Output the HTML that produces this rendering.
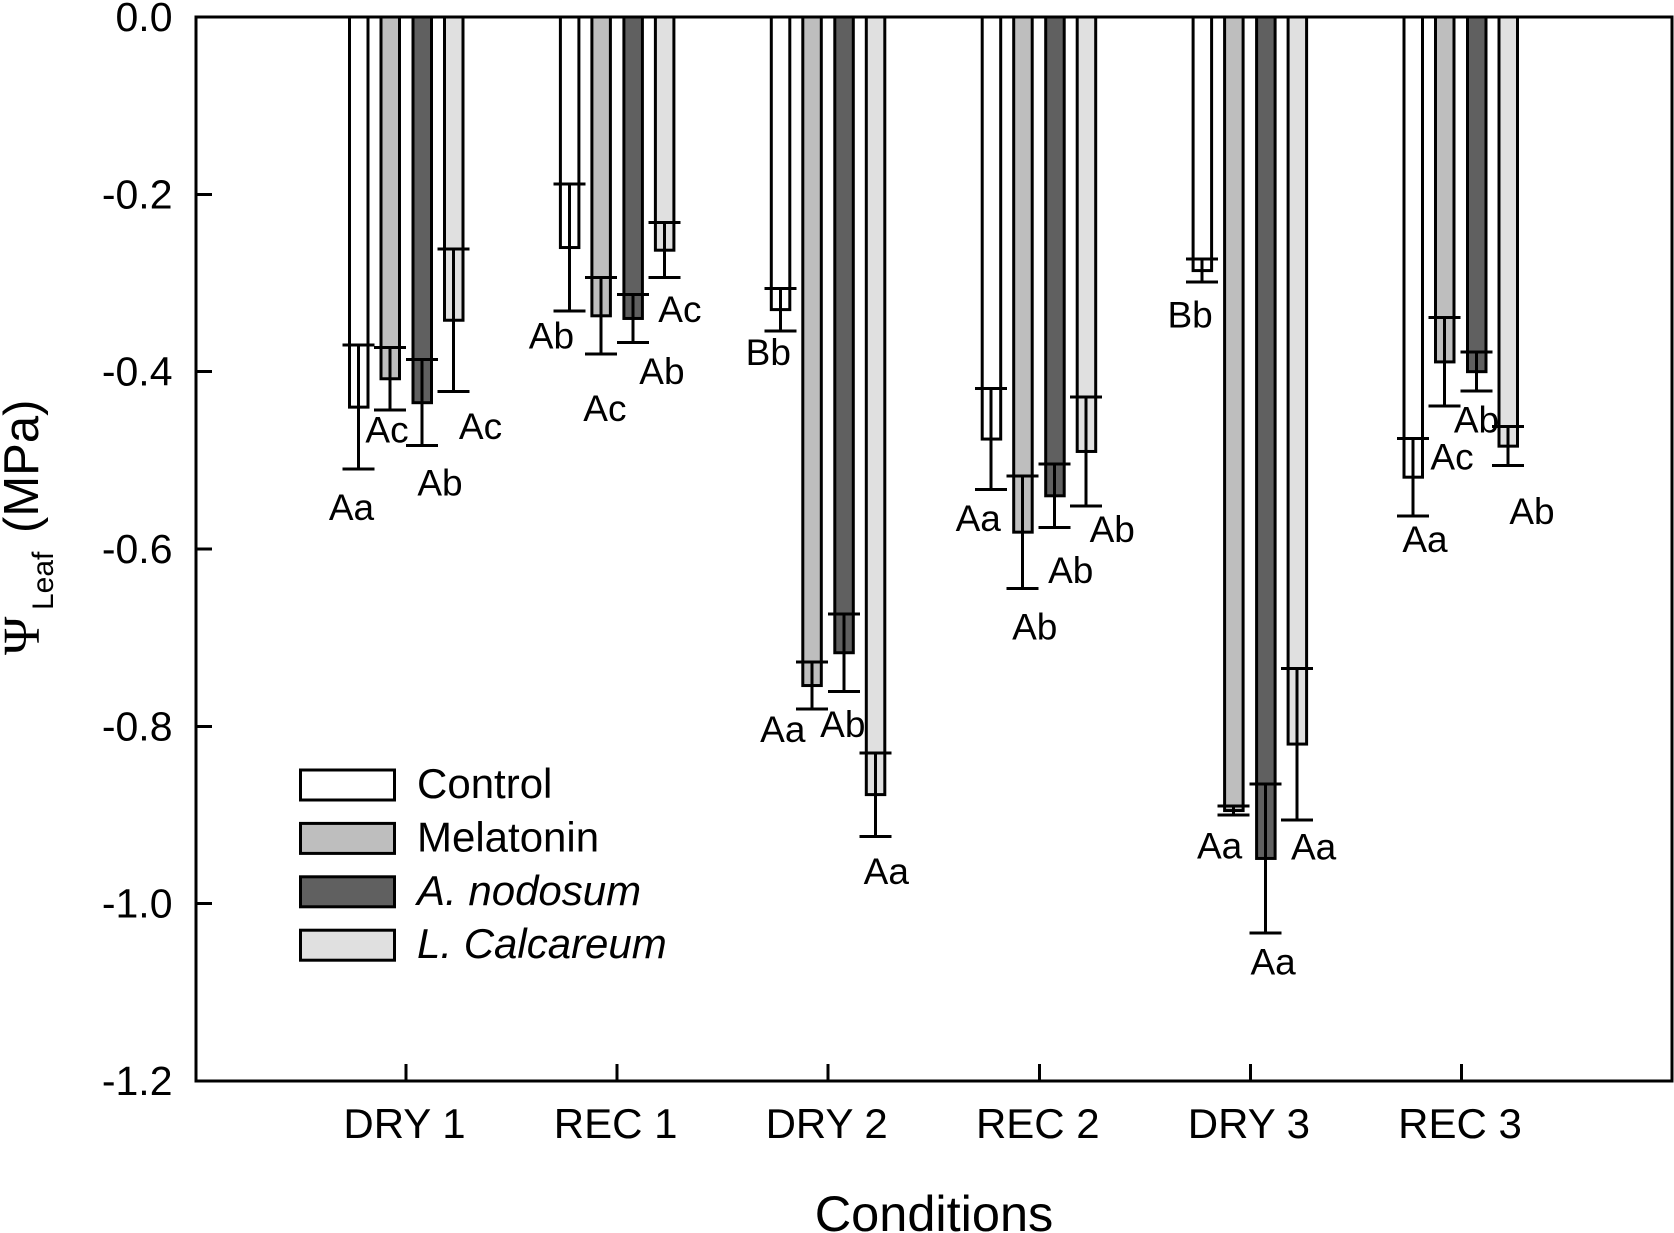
<!DOCTYPE html>
<html lang="en">
<head>
<meta charset="utf-8">
<title>Leaf water potential by condition</title>
<style>
  html, body { margin: 0; padding: 0; background: #fff; }
  svg { display: block; font-family: "Liberation Sans", Arial, sans-serif; fill: #000; }
</style>
</head>
<body>
<svg id="chart" xmlns="http://www.w3.org/2000/svg" width="1674" height="1233" viewBox="0 0 1674 1233">
  <rect width="1674" height="1233" fill="#fff"/>
  <text transform="translate(39 655) rotate(-90)" font-family="'Liberation Serif', serif" font-size="52">Ψ</text>
  <text transform="translate(53 610) rotate(-90)" font-size="30">Leaf</text>
  <text transform="translate(38 533) rotate(-90)" font-size="49">(MPa)</text>
  <text x="934" y="1231" text-anchor="middle" font-size="50.5">Conditions</text>
</svg>
<script>
const categories = ['DRY 1', 'REC 1', 'DRY 2', 'REC 2', 'DRY 3', 'REC 3'];
const yTicks = [0, -0.2, -0.4, -0.6, -0.8, -1.0, -1.2];
const seriesNames = ['Control', 'Melatonin', 'A. nodosum', 'L. Calcareum'];
const controlValues = [-0.44, -0.26, -0.33, -0.476, -0.286, -0.519];
const melatoninValues = [-0.408, -0.337, -0.754, -0.581, -0.895, -0.389];
const nodosumValues = [-0.435, -0.34, -0.717, -0.54, -0.949, -0.4];
const calcareumValues = [-0.342, -0.263, -0.877, -0.49, -0.82, -0.484];
const controlErrors = [0.07, 0.0715, 0.024, 0.057, 0.013, 0.0435];
const melatoninErrors = [0.035, 0.043, 0.0265, 0.0635, 0.005, 0.05];
const nodosumErrors = [0.0485, 0.027, 0.0435, 0.036, 0.084, 0.022];
const calcareumErrors = [0.0805, 0.031, 0.047, 0.0615, 0.0855, 0.022];
const controlLetters = ['Aa', 'Ab', 'Bb', 'Aa', 'Bb', 'Aa'];
const melatoninLetters = ['Ac', 'Ac', 'Aa', 'Ab', 'Aa', 'Ac'];
const nodosumLetters = ['Ab', 'Ab', 'Ab', 'Ab', 'Aa', 'Ab'];
const calcareumLetters = ['Ac', 'Ac', 'Aa', 'Ab', 'Aa', 'Ab'];

/* layout only: where each significance label sits relative to its error bar */
const labelNudge = [
  [[-7, 39.5], [-18, 26], [-12, 22.5], [-13, 30], [-12, 34], [12, 24.5]],
  [[-3, 21], [4, 55.5], [-29, 21.5], [12, 39.5], [-14, 32], [7.5, 52]],
  [[18, 38.5], [29, 30], [-1, 34], [16, 44], [7.5, 30], [0, 30]],
  [[27, 36], [15.5, 33], [11, 36], [26, 24.5], [16.5, 28], [24, 47]]
];

const svg = document.getElementById('chart');
const NS = 'http://www.w3.org/2000/svg';
const plot = { left: 196, right: 1672, top: 17, bottom: 1081 };
const seriesValues = [controlValues, melatoninValues, nodosumValues, calcareumValues];
const seriesErrors = [controlErrors, melatoninErrors, nodosumErrors, calcareumErrors];
const seriesLetters = [controlLetters, melatoninLetters, nodosumLetters, calcareumLetters];
const seriesFills = ['#ffffff', '#bebebe', '#606060', '#e0e0e0'];
const seriesKeys = ['control', 'melatonin', 'a-nodosum', 'l-calcareum'];
const barOffsets = [-47.5, -16, 16, 47.5];

function yScale(v) { return plot.top + (-v / 1.2) * (plot.bottom - plot.top); }
function xScale(i) { return 406 + i * 211.1; }
function barScale(i) { return 406 + i * 210.9; }

function make(tag, attrs) {
  const el = document.createElementNS(NS, tag);
  for (const k in attrs) el.setAttribute(k, attrs[k]);
  svg.appendChild(el);
  return el;
}
function line(x1, y1, x2, y2, w) {
  return make('line', { x1: x1, y1: y1, x2: x2, y2: y2, stroke: '#000', 'stroke-width': w, 'shape-rendering': 'crispEdges' });
}

/* bars and error bars */
seriesValues.forEach(function (values, s) {
  values.forEach(function (v, i) {
    const cx = barScale(i) + barOffsets[s];
    const key = seriesKeys[s] + '-' + categories[i].toLowerCase().replace(' ', '');
    const yBar = yScale(v);
    const bar = make('rect', { x: cx - 9, y: plot.top, width: 18.5, height: yBar - plot.top, fill: seriesFills[s], stroke: '#000', 'stroke-width': 3 });
    
    
    const yHi = yScale(v + seriesErrors[s][i]);
    const yLo = yScale(v - seriesErrors[s][i]);
    const stem = line(cx, yHi, cx, yLo, 3);
    
    
    const capTop = line(cx - 16, yHi, cx + 16, yHi, 3);
    
    
    const capBottom = line(cx - 16, yLo, cx + 16, yLo, 3);
    
    
    const nudge = labelNudge[s][i];
    const label = make('text', { x: cx + nudge[0], y: yLo + nudge[1] + 11.5, 'text-anchor': 'middle', 'font-size': 37 });
    label.textContent = seriesLetters[s][i];
    
    
  });
});

/* frame */
const frame = make('rect', { x: plot.left, y: plot.top, width: plot.right - plot.left, height: plot.bottom - plot.top, fill: 'none', stroke: '#000', 'stroke-width': 3 });



/* y axis */
yTicks.forEach(function (t) {
  const y = yScale(t);
  if (t !== 0 && t !== -1.2) {
    const tick = line(plot.left, y, plot.left + 16, y, 3);
    
    
  }
  const label = make('text', { x: 172.5, y: y + 14, 'text-anchor': 'end', 'font-size': 41 });
  label.textContent = t.toFixed(1);
  
  
});

/* x axis */
categories.forEach(function (c, i) {
  const x = xScale(i);
  const tick = line(x, plot.bottom, x, plot.bottom - 17, 3);
  
  
  const label = make('text', { x: x - 1.5, y: 1138, 'text-anchor': 'middle', 'font-size': 42 });
  label.textContent = c;
  
  
});

/* legend */
seriesNames.forEach(function (n, s) {
  const top = 770 + s * 53.4;
  const swatch = make('rect', { x: 300.5, y: top, width: 94, height: 30, fill: seriesFills[s], stroke: '#000', 'stroke-width': 3 });
  
  
  const label = make('text', { x: 417, y: top + 28, 'font-size': 42 });
  if (s >= 2) label.setAttribute('font-style', 'italic');
  label.textContent = n;
  
  
});
</script>
</body>
</html>
